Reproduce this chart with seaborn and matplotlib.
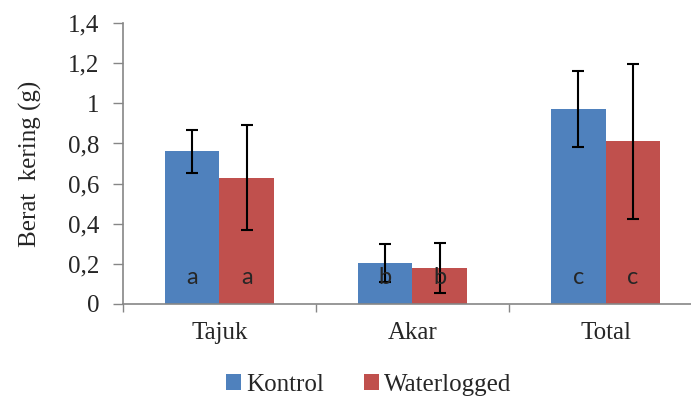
import pandas as pd
import seaborn as sns
import numpy as np
import matplotlib.pyplot as plt
from matplotlib.ticker import FixedLocator

# Data
categories = ['Tajuk', 'Akar', 'Total']
groups = ['Kontrol', 'Waterlogged']
kontrol = [0.76, 0.205, 0.97]
waterlogged = [0.63, 0.18, 0.81]
kontrol_err = [0.105, 0.095, 0.19]
waterlogged_err = [0.26, 0.125, 0.387]
letters_kontrol = ['a', 'b', 'c']
letters_water = ['a', 'b', 'c']
yticks = [0, 0.2, 0.4, 0.6, 0.8, 1, 1.2, 1.4]
ytick_labels = ['0', '0,2', '0,4', '0,6', '0,8', '1', '1,2', '1,4']

sns.set_style("white")
plt.rcParams['font.family'] = ['Liberation Serif', 'DejaVu Serif']

df = pd.DataFrame({
    'Bagian': categories * 2,
    'Perlakuan': ['Kontrol'] * 3 + ['Waterlogged'] * 3,
    'Berat': kontrol + waterlogged,
})

fig = plt.figure(figsize=(6.91, 4.03), dpi=100)
ax = fig.add_axes([0.178, 0.2457, 0.822, 0.697])

sns.barplot(data=df, x='Bagian', y='Berat', hue='Perlakuan', order=categories,
            hue_order=groups, palette=['#4F81BD', '#C0504D'], errorbar=None,
            width=0.562, saturation=1, ax=ax, legend=False)

# error bars + letters on each bar
errs = kontrol_err + waterlogged_err
labs = letters_kontrol + letters_water
vals = kontrol + waterlogged
bars = ax.patches[:6]
for p, e, lab, v in zip(bars, errs, labs, vals):
    p.set_edgecolor('none')
    cx = p.get_x() + p.get_width() / 2
    ax.errorbar(cx, v, yerr=e, color='black', capsize=4.5, capthick=1.5,
                elinewidth=1.5, fmt='none', zorder=5)
    ax.text(cx, 0.13, lab, ha='center', va='center', fontsize=17,
            family=['Lato', 'DejaVu Sans'], zorder=6)

ax.set_ylim(0, 1.4)
ax.set_xlim(-0.5, 2.443)
ax.set_yticks(yticks)
ax.set_yticklabels(ytick_labels)
ax.set_xlabel('')
ax.set_ylabel('Berat  kering (g)', fontsize=18, labelpad=19)

ax.tick_params(axis='y', which='major', direction='out', length=7, width=1,
               color='#868686', labelsize=18, pad=10, left=True)
ax.tick_params(axis='x', which='major', length=0, labelsize=18, pad=13)
ax.xaxis.set_minor_locator(FixedLocator([-0.5, 0.5, 1.5, 2.5]))
ax.tick_params(axis='x', which='minor', direction='out', length=6, width=1,
               color='#868686', bottom=True)

for s in ['top', 'right']:
    ax.spines[s].set_visible(False)
for s in ['left', 'bottom']:
    ax.spines[s].set_color('#868686')
    ax.spines[s].set_linewidth(1.2)

leg = ax.legend([bars[0], bars[3]], groups, loc='upper center',
                bbox_to_anchor=(0.433, -0.17), ncol=2, frameon=False,
                fontsize=18, handlelength=0.6, handleheight=0.6,
                handletextpad=0.2, columnspacing=1.6)
for t in leg.get_texts():
    t.set_fontfamily(['Liberation Serif', 'DejaVu Serif'])

fig.savefig('out.png', dpi=100)
